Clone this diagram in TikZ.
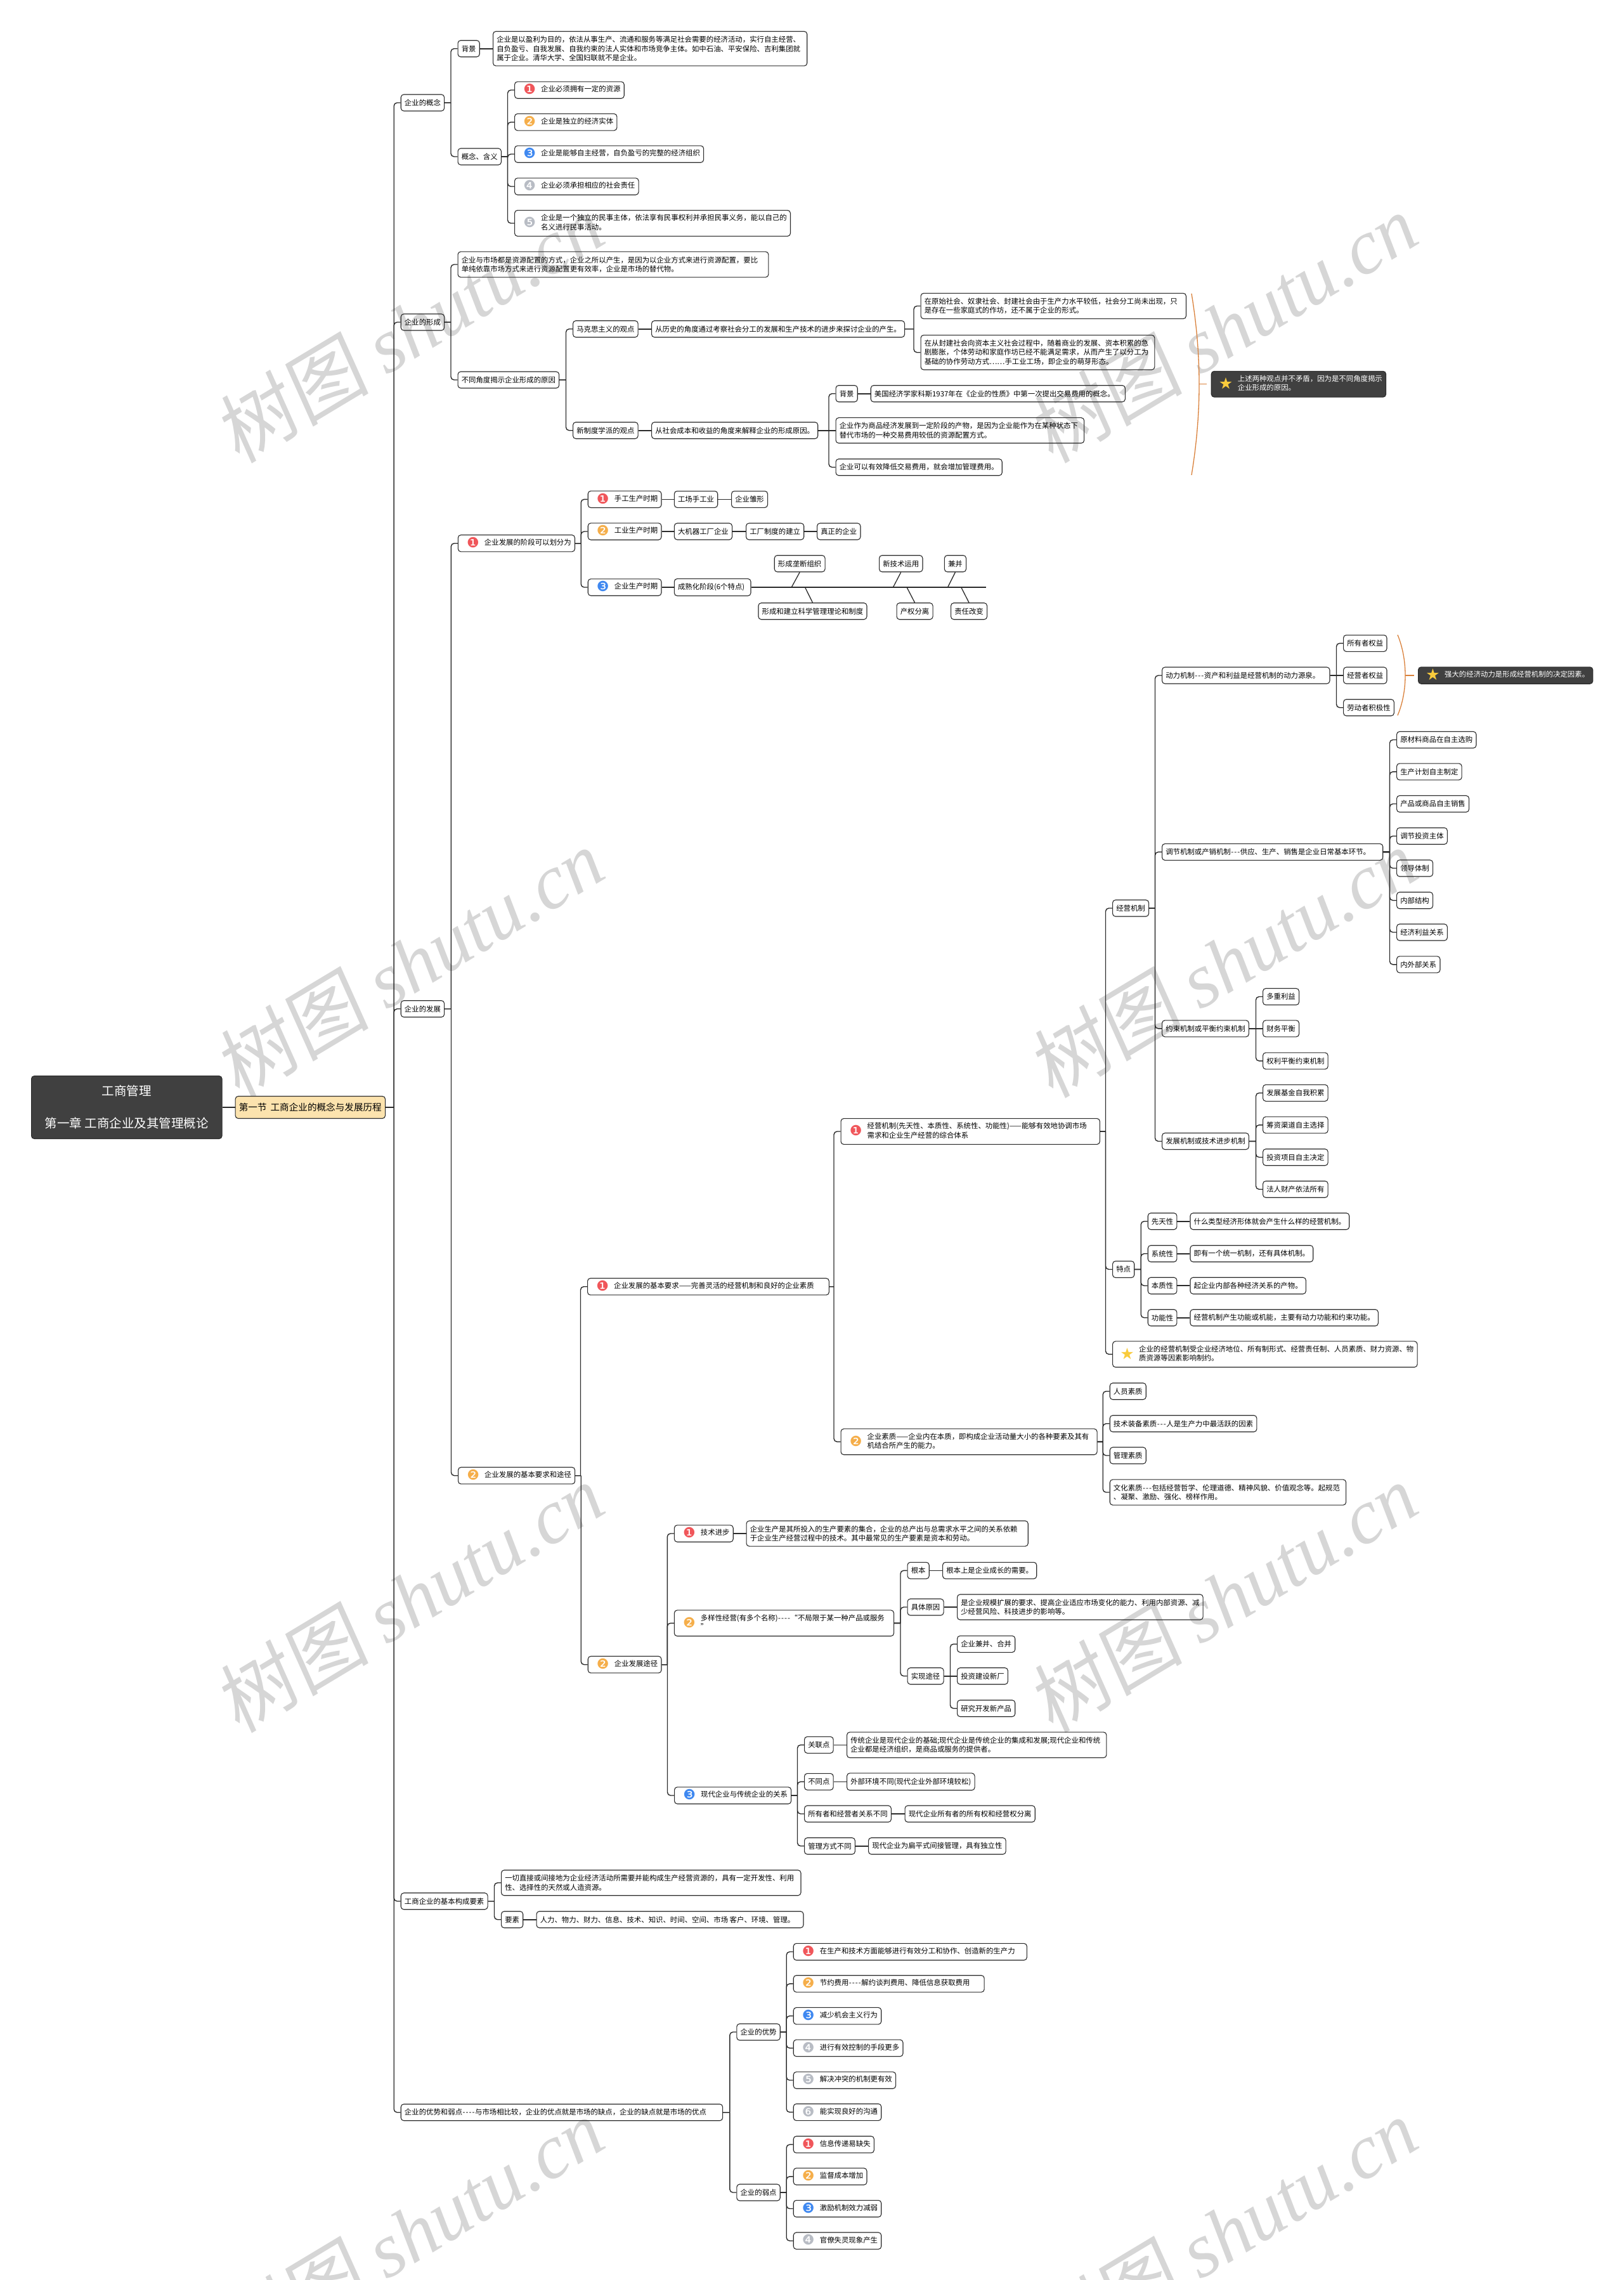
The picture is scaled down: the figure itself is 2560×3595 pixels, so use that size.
\documentclass[tikz,border=0pt]{standalone}
\usepackage{fontspec}
\setmainfont{Noto Sans CJK SC}
\newfontfamily\dingfont{DejaVu Sans}
\newfontfamily\wmcjk[FakeSlant=0.12]{Noto Sans CJK SC}
\newfontfamily\wmlatin{Liberation Serif}
\usetikzlibrary{calc}
\definecolor{linec}{HTML}{2B2B2B}
\definecolor{dotred}{HTML}{F0565A}
\definecolor{dotorange}{HTML}{F5AE4A}
\definecolor{dotblue}{HTML}{3F88F0}
\definecolor{dotgray}{HTML}{B8BCC4}
\definecolor{stary}{HTML}{F9CB3C}
\definecolor{darkbg}{HTML}{404040}
\definecolor{secbg}{HTML}{FCE3AE}
\definecolor{bracec}{HTML}{D9803A}
\definecolor{wmgray}{HTML}{D6D6D6}
\newcommand{\tagged}[2]{\makebox[35.9pt][l]{\hspace{8pt}\raisebox{-4pt}[0pt][0pt]{\fontsize{22}{22}\dingfont #1}}\begin{tabular}[c]{@{}l@{}}#2\end{tabular}}
\newcommand{\rd}[1]{\textcolor{dotred}{#1}}
\newcommand{\og}[1]{\textcolor{dotorange}{#1}}
\newcommand{\bl}[1]{\textcolor{dotblue}{#1}}
\newcommand{\gy}[1]{\textcolor{dotgray}{#1}}
\newcommand{\st}{\hspace{-2pt}\textcolor{stary}{\fontsize{25}{25}\dingfont\raisebox{-1pt}[0pt][0pt]{★}}}
\newcommand{\hy}{\makebox[5pt]{-}}
\newcommand{\pad}[1]{\hspace*{#1pt}}
\tikzset{
  box/.style={draw=linec, line width=1.1pt, rounded corners=4.5pt, anchor=west, align=left,
    inner xsep=5.7pt, inner ysep=7.5pt, minimum height=26pt,
    font=\fontsize{11.4}{14.4}\selectfont},
  tagbox/.style={box, inner ysep=6pt},
  darkbox/.style={tagbox, fill=darkbg, text=white},
  rootbox/.style={box, fill=darkbg, text=white, align=center, minimum width=300.5pt, minimum height=99pt,
    font=\fontsize{19.5}{51}\selectfont},
  secbox/.style={box, fill=secbg, minimum height=35pt, font=\fontsize{14.6}{18}\selectfont},
  link/.style={draw=linec, line width=1.4pt,
    to path={let \p1=(\tikztostart), \p2=(\tikztotarget) in (\p1) -- (\x2-10.5pt,\y1)
      (\x2-10.5pt,\y1) [rounded corners=5pt] |- (\p2)}},
  stem/.style={draw=linec, line width=1.6pt},
  bone/.style={draw=linec, line width=1.3pt},
  brace/.style={draw=bracec, line width=1.3pt},
  watermark/.style={text=wmgray, rotate=31, inner sep=0pt, font=\fontsize{122}{122}\selectfont}
}
\begin{document}
\begin{tikzpicture}[x=1pt, y=-1pt]
  \useasboundingbox (0,0) rectangle (2560,3595);
  \node (wm1) [watermark] at (645, 517) {\wmcjk 树图 \wmlatin\itshape shutu.cn};
  \node (wm2) [watermark] at (1928, 517) {\wmcjk 树图 \wmlatin\itshape shutu.cn};
  \node (wm3) [watermark] at (645, 1518) {\wmcjk 树图 \wmlatin\itshape shutu.cn};
  \node (wm4) [watermark] at (1928, 1518) {\wmcjk 树图 \wmlatin\itshape shutu.cn};
  \node (wm5) [watermark] at (645, 2519) {\wmcjk 树图 \wmlatin\itshape shutu.cn};
  \node (wm6) [watermark] at (1928, 2519) {\wmcjk 树图 \wmlatin\itshape shutu.cn};
  \node (wm7) [watermark] at (645, 3520) {\wmcjk 树图 \wmlatin\itshape shutu.cn};
  \node (wm8) [watermark] at (1928, 3520) {\wmcjk 树图 \wmlatin\itshape shutu.cn};

  \node (root) [rootbox] at (49, 1746) {工商管理\\第一章 工商企业及其管理概论};
  \node (sec) [secbox] at (370.6, 1746) {第一节\hspace{6pt}工商企业的概念与发展历程};
  \draw[stem] (root.east) -- (sec.west);

  \node (cpt) [box] at (631.7, 162) {企业的概念};
  \node (form) [box] at (631.7, 508) {企业的形成};
  \node (grow) [box] at (631.7, 1590.7) {企业的发展};
  \node (elem) [box] at (631.7, 2997.7) {工商企业的基本构成要素};
  \node (prosc) [box] at (631.7, 3330.7) {企业的优势和弱点\hy\hy\hy\hy 与市场相比较，企业的优点就是市场的缺点，企业的缺点就是市场的优点\pad{20}};
  \draw[link] (sec.east) to (cpt.west);
  \draw[link] (sec.east) to (form.west);
  \draw[link] (sec.east) to (grow.west);
  \draw[link] (sec.east) to (elem.west);
  \draw[link] (sec.east) to (prosc.west);

  \node (cptbg) [box] at (721.5, 76.7) {背景};
  \node (cptbgt) [box] at (777, 76.7) {企业是以盈利为目的，依法从事生产、流通和服务等满足社会需要的经济活动，实行自主经营、\pad{5}\\自负盈亏、自我发展、自我约束的法人实体和市场竞争主体。如中石油、平安保险、吉利集团就\\属于企业。清华大学、全国妇联就不是企业。};
  \node (cptdef) [box] at (721.5, 247) {概念、含义};
  \node (def1) [tagbox] at (811, 142) {\tagged{\rd{❶}}{企业必须拥有一定的资源}};
  \node (def2) [tagbox] at (811, 192.6) {\tagged{\og{❷}}{企业是独立的经济实体}};
  \node (def3) [tagbox] at (811, 243) {\tagged{\bl{❸}}{企业是能够自主经营，自负盈亏的完整的经济组织}};
  \node (def4) [tagbox] at (811, 294) {\tagged{\gy{❹}}{企业必须承担相应的社会责任}};
  \node (def5) [tagbox] at (811, 352) {\tagged{\gy{❺}}{企业是一个独立的民事主体，依法享有民事权利并承担民事义务，能以自己的\\名义进行民事活动。}};
  \draw[link] (cpt.east) to (cptbg.west);
  \draw[link] (cpt.east) to (cptdef.west);
  \draw[stem] (cptbg.east) -- (cptbgt.west);
  \draw[link] (cptdef.east) to (def1.west);
  \draw[link] (cptdef.east) to (def2.west);
  \draw[link] (cptdef.east) to (def3.west);
  \draw[link] (cptdef.east) to (def4.west);
  \draw[link] (cptdef.east) to (def5.west);

  \node (mkt) [box] at (721.5, 417) {企业与市场都是资源配置的方式，企业之所以产生，是因为以企业方式来进行资源配置，要比\pad{11}\\单纯依靠市场方式来进行资源配置更有效率，企业是市场的替代物。};
  \node (why) [box] at (721.5, 599) {不同角度揭示企业形成的原因};
  \node (marx) [box] at (903, 518.7) {马克思主义的观点};
  \node (marxt) [box] at (1027, 518.7) {从历史的角度通过考察社会分工的发展和生产技术的进步来探讨企业的产生。};
  \node (marx1) [box] at (1451.5, 482.5) {在原始社会、奴隶社会、封建社会由于生产力水平较低，社会分工尚未出现，只\pad{8}\\是存在一些家庭式的作坊，还不属于企业的形式。};
  \node (marx2) [box] at (1451.5, 555.7) {在从封建社会向资本主义社会过程中，随着商业的发展、资本积累的急\pad{4}\\剧膨胀，个体劳动和家庭作坊已经不能满足需求，从而产生了以分工为\\基础的协作劳动方式……手工业工场，即企业的萌芽形态。};
  \node (inst) [box] at (903, 678.7) {新制度学派的观点};
  \node (instt) [box] at (1027, 678.7) {从社会成本和收益的角度来解释企业的形成原因。};
  \node (instbg) [box] at (1317.5, 620.7) {背景};
  \node (instbgt) [box] at (1372.7, 620.7) {美国经济学家科斯1937年在《企业的性质》中第一次提出交易费用的概念。\pad{11}};
  \node (inst2) [box] at (1317.5, 678.7) {企业作为商品经济发展到一定阶段的产物，是因为企业能作为在某种状态下\pad{4}\\替代市场的一种交易费用较低的资源配置方式。};
  \node (inst3) [box] at (1317.5, 736.7) {企业可以有效降低交易费用，就会增加管理费用。};
  \draw[link] (form.east) to (mkt.west);
  \draw[link] (form.east) to (why.west);
  \draw[link] (why.east) to (marx.west);
  \draw[link] (why.east) to (inst.west);
  \draw[stem] (marx.east) -- (marxt.west);
  \draw[link] (marxt.east) to (marx1.west);
  \draw[link] (marxt.east) to (marx2.west);
  \draw[stem] (inst.east) -- (instt.west);
  \draw[link] (instt.east) to (instbg.west);
  \draw[stem] (instt.east) -- (inst2.west);
  \draw[link] (instt.east) to (inst3.west);
  \draw[stem] (instbg.east) -- (instbgt.west);

  \coordinate (ba1) at (1879, 463);
  \coordinate (bc1) at (1879, 749);
  \coordinate (bm1) at (1891, 605.7);
  \coordinate (bt1) at (1903, 605.7);
  \node (note1) [darkbox] at (1909.7, 605.7) {\tagged{\st}{上述两种观点并不矛盾，因为是不同角度揭示\\企业形成的原因。}};
  \draw[brace] (ba1) .. controls (1895, 560) and (1895, 652) .. (bc1);
  \draw[brace] (bm1) -- (bt1);

  \node (stage) [tagbox] at (721.8, 856.7) {\tagged{\rd{❶}}{企业发展的阶段可以划分为}};
  \node (hand) [tagbox] at (926.7, 787.3) {\tagged{\rd{❶}}{手工生产时期}};
  \node (hand1) [box] at (1062.8, 787.3) {工场手工业};
  \node (hand2) [box] at (1153, 787.3) {企业雏形};
  \node (ind) [tagbox] at (926.7, 838) {\tagged{\og{❷}}{工业生产时期}};
  \node (ind1) [box] at (1062.8, 838) {大机器工厂企业};
  \node (ind2) [box] at (1176, 838) {工厂制度的建立};
  \node (ind3) [box] at (1288, 838) {真正的企业};
  \node (ent) [tagbox] at (926.7, 926) {\tagged{\bl{❸}}{企业生产时期}};
  \node (mature) [box] at (1062.8, 926) {成熟化阶段(6个特点)\pad{4}};
  \draw[link] (grow.east) to (stage.west);
  \draw[link] (stage.east) to (hand.west);
  \draw[link] (stage.east) to (ind.west);
  \draw[link] (stage.east) to (ent.west);
  \draw[stem] (hand.east) -- (hand1.west);
  \draw[stem] (hand1.east) -- (hand2.west);
  \draw[stem] (ind.east) -- (ind1.west);
  \draw[stem] (ind1.east) -- (ind2.west);
  \draw[stem] (ind2.east) -- (ind3.west);
  \draw[stem] (ent.east) -- (mature.west);

  \coordinate (spine) at (1555.3, 926);
  \draw[stem] (mature.east) -- (spine);
  \node (fa) [box] at (1220.7, 888.7) {形成垄断组织};
  \node (fb) [box] at (1386, 888.7) {新技术运用};
  \node (fc) [box] at (1488.8, 888.7) {兼并};
  \node (fd) [box] at (1195.4, 963.7) {形成和建立科学管理理论和制度};
  \node (fe) [box] at (1413.5, 963.7) {产权分离};
  \node (ff) [box] at (1499, 963.7) {责任改变};
  \coordinate (sa) at (1248.2, 926);
  \coordinate (sb) at (1408.4, 926);
  \coordinate (sc) at (1494.5, 926);
  \coordinate (sd) at (1269.5, 926);
  \coordinate (se) at (1430, 926);
  \coordinate (sf) at (1515.7, 926);
  \draw[bone] (fa.south) -- (sa);
  \draw[bone] (fb.south) -- (sb);
  \draw[bone] (fc.south) -- (sc);
  \draw[bone] (fd.north) -- (sd);
  \draw[bone] (fe.north) -- (se);
  \draw[bone] (ff.north) -- (sf);

  \node (req) [tagbox] at (722, 2326.7) {\tagged{\og{❷}}{企业发展的基本要求和途径}};
  \node (need) [tagbox] at (926, 2028.7) {\tagged{\rd{❶}}{企业发展的基本要求——完善灵活的经营机制和良好的企业素质\pad{18}}};
  \node (path) [tagbox] at (926.7, 2624.7) {\tagged{\og{❷}}{企业发展途径}};
  \draw[link] (grow.east) to (req.west);
  \draw[link] (req.east) to (need.west);
  \draw[link] (req.east) to (path.west);

  \node (mech) [tagbox] at (1325.5, 1784) {\tagged{\rd{❶}}{经营机制(先天性、本质性、系统性、功能性)——能够有效地协调市场\pad{15}\\需求和企业生产经营的综合体系}};
  \node (qual) [tagbox] at (1325.5, 2273.3) {\tagged{\og{❷}}{企业素质——企业内在本质，即构成企业活动量大小的各种要素及其有\pad{7}\\机结合所产生的能力。}};
  \draw[link] (need.east) to (mech.west);
  \draw[link] (need.east) to (qual.west);

  \node (jy) [box] at (1754, 1432) {经营机制};
  \node (td) [box] at (1754, 2001.5) {特点};
  \node (mnote) [tagbox] at (1754, 2135.3) {\tagged{\st}{企业的经营机制受企业经济地位、所有制形式、经营责任制、人员素质、财力资源、物\\质资源等因素影响制约。}};
  \draw[link] (mech.east) to (jy.west);
  \draw[link] (mech.east) to (td.west);
  \draw[link] (mech.east) to (mnote.west);

  \node (dl) [box] at (1832, 1065) {动力机制\hy\hy\hy 资产和利益是经营机制的动力源泉。\pad{10}};
  \node (tj) [box] at (1832, 1343.4) {调节机制或产销机制\hy\hy\hy 供应、生产、销售是企业日常基本环节。\pad{14}};
  \node (ys) [box] at (1832, 1621.8) {约束机制或平衡约束机制};
  \node (fz) [box] at (1832, 1799.5) {发展机制或技术进步机制};
  \draw[link] (jy.east) to (dl.west);
  \draw[link] (jy.east) to (tj.west);
  \draw[link] (jy.east) to (ys.west);
  \draw[link] (jy.east) to (fz.west);

  \node (dl1) [box] at (2118, 1014.3) {所有者权益};
  \node (dl2) [box] at (2118, 1065) {经营者权益};
  \node (dl3) [box] at (2118, 1115.7) {劳动者积极性};
  \draw[link] (dl.east) to (dl1.west);
  \draw[stem] (dl.east) -- (dl2.west);
  \draw[link] (dl.east) to (dl3.west);
  \coordinate (ba2) at (2204, 1001);
  \coordinate (bc2) at (2204, 1128);
  \coordinate (bm2) at (2216, 1065);
  \coordinate (bt2) at (2230, 1065);
  \node (note2) [darkbox] at (2236, 1065) {\tagged{\st}{强大的经济动力是形成经营机制的决定因素。}};
  \draw[brace] (ba2) .. controls (2220, 1040) and (2220, 1090) .. (bc2);
  \draw[brace] (bm2) -- (bt2);

  \node (tj1) [box] at (2202, 1166.5) {原材料商品在自主选购};
  \node (tj2) [box] at (2202, 1216.8) {生产计划自主制定};
  \node (tj3) [box] at (2202, 1267.5) {产品或商品自主销售};
  \node (tj4) [box] at (2202, 1318.2) {调节投资主体};
  \node (tj5) [box] at (2202, 1369) {领导体制};
  \node (tj6) [box] at (2202, 1419.7) {内部结构};
  \node (tj7) [box] at (2202, 1470) {经济利益关系};
  \node (tj8) [box] at (2202, 1520.8) {内外部关系};
  \draw[link] (tj.east) to (tj1.west);
  \draw[link] (tj.east) to (tj2.west);
  \draw[link] (tj.east) to (tj3.west);
  \draw[link] (tj.east) to (tj4.west);
  \draw[link] (tj.east) to (tj5.west);
  \draw[link] (tj.east) to (tj6.west);
  \draw[link] (tj.east) to (tj7.west);
  \draw[link] (tj.east) to (tj8.west);

  \node (ys1) [box] at (1991, 1571.5) {多重利益};
  \node (ys2) [box] at (1991, 1621.8) {财务平衡};
  \node (ys3) [box] at (1991, 1672.8) {权利平衡约束机制};
  \draw[link] (ys.east) to (ys1.west);
  \draw[stem] (ys.east) -- (ys2.west);
  \draw[link] (ys.east) to (ys3.west);

  \node (fz1) [box] at (1991, 1723.3) {发展基金自我积累};
  \node (fz2) [box] at (1991, 1773.8) {筹资渠道自主选择};
  \node (fz3) [box] at (1991, 1824.7) {投资项目自主决定};
  \node (fz4) [box] at (1991, 1875.2) {法人财产依法所有};
  \draw[link] (fz.east) to (fz1.west);
  \draw[link] (fz.east) to (fz2.west);
  \draw[link] (fz.east) to (fz3.west);
  \draw[link] (fz.east) to (fz4.west);

  \node (td1) [box] at (1809.7, 1925.7) {先天性};
  \node (td1t) [box] at (1876.4, 1925.7) {什么类型经济形体就会产生什么样的经营机制。};
  \node (td2) [box] at (1809.7, 1976.7) {系统性};
  \node (td2t) [box] at (1876.4, 1976.7) {即有一个统一机制，还有具体机制。};
  \node (td3) [box] at (1809.7, 2027.2) {本质性};
  \node (td3t) [box] at (1876.4, 2027.2) {起企业内部各种经济关系的产物。};
  \node (td4) [box] at (1809.7, 2077.7) {功能性};
  \node (td4t) [box] at (1876.4, 2077.7) {经营机制产生功能或机能，主要有动力功能和约束功能。};
  \draw[link] (td.east) to (td1.west);
  \draw[link] (td.east) to (td2.west);
  \draw[link] (td.east) to (td3.west);
  \draw[link] (td.east) to (td4.west);
  \draw[stem] (td1.east) -- (td1t.west);
  \draw[stem] (td2.east) -- (td2t.west);
  \draw[stem] (td3.east) -- (td3t.west);
  \draw[stem] (td4.east) -- (td4t.west);

  \node (qa) [box] at (1749.7, 2193.7) {人员素质};
  \node (qb) [box] at (1749.7, 2244.7) {技术装备素质\hy\hy\hy 人是生产力中最活跃的因素};
  \node (qc) [box] at (1749.7, 2295) {管理素质};
  \node (qd) [box] at (1749.7, 2353) {文化素质\hy\hy\hy 包括经营哲学、伦理道德、精神风貌、价值观念等。起规范\pad{4}\\、凝聚、激励、强化、榜样作用。};
  \draw[link] (qual.east) to (qa.west);
  \draw[link] (qual.east) to (qb.west);
  \draw[link] (qual.east) to (qc.west);
  \draw[link] (qual.east) to (qd.west);

  \node (tech) [tagbox] at (1062.8, 2418) {\tagged{\rd{❶}}{技术进步}};
  \node (techt) [box] at (1176.5, 2418) {企业生产是其所投入的生产要素的集合，企业的总产出与总需求水平之间的关系依赖\pad{11}\\于企业生产经营过程中的技术。其中最常见的生产要素是资本和劳动。};
  \node (div) [tagbox] at (1062.8, 2559.3) {\tagged{\og{❷}}{多样性经营(有多个名称)\hy\hy\hy\hy “不局限于某一种产品或服务\pad{9}\\”}};
  \node (mod) [tagbox] at (1063, 2831) {\tagged{\bl{❸}}{现代企业与传统企业的关系}};
  \draw[link] (path.east) to (tech.west);
  \draw[link] (path.east) to (div.west);
  \draw[link] (path.east) to (mod.west);
  \draw[stem] (tech.east) -- (techt.west);

  \node (da) [box] at (1430.5, 2476.3) {根本};
  \node (dat) [box] at (1486, 2476.3) {根本上是企业成长的需要。};
  \node (db) [box] at (1430.5, 2534) {具体原因};
  \node (dbt) [box] at (1509, 2534) {是企业规模扩展的要求、提高企业适应市场变化的能力、利用内部资源、减\\少经营风险、科技进步的影响等。};
  \node (dc) [box] at (1430.5, 2642.7) {实现途径};
  \node (dc1) [box] at (1509, 2592.3) {企业兼并、合并};
  \node (dc2) [box] at (1509, 2642.7) {投资建设新厂};
  \node (dc3) [box] at (1509, 2693.7) {研究开发新产品};
  \draw[link] (div.east) to (da.west);
  \draw[link] (div.east) to (db.west);
  \draw[link] (div.east) to (dc.west);
  \draw[stem] (da.east) -- (dat.west);
  \draw[stem] (db.east) -- (dbt.west);
  \draw[link] (dc.east) to (dc1.west);
  \draw[stem] (dc.east) -- (dc2.west);
  \draw[link] (dc.east) to (dc3.west);

  \node (ma) [box] at (1268, 2751.3) {关联点};
  \node (mat) [box] at (1335, 2751.3) {传统企业是现代企业的基础;现代企业是传统企业的集成和发展;现代企业和传统\pad{4}\\企业都是经济组织，是商品或服务的提供者。};
  \node (mb) [box] at (1268, 2809.3) {不同点};
  \node (mbt) [box] at (1335, 2809.3) {外部环境不同(现代企业外部环境较松)};
  \node (mc) [box] at (1268, 2860) {所有者和经营者关系不同};
  \node (mct) [box] at (1426.5, 2860) {现代企业所有者的所有权和经营权分离};
  \node (md) [box] at (1268, 2910.7) {管理方式不同};
  \node (mdt) [box] at (1369, 2910.7) {现代企业为扁平式间接管理，具有独立性};
  \draw[link] (mod.east) to (ma.west);
  \draw[link] (mod.east) to (mb.west);
  \draw[link] (mod.east) to (mc.west);
  \draw[link] (mod.east) to (md.west);
  \draw[stem] (ma.east) -- (mat.west);
  \draw[stem] (mb.east) -- (mbt.west);
  \draw[stem] (mc.east) -- (mct.west);
  \draw[stem] (md.east) -- (mdt.west);

  \node (ela) [box] at (790, 2968.7) {一切直接或间接地为企业经济活动所需要并能构成生产经营资源的，具有一定开发性、利用\pad{5}\\性、选择性的天然或人造资源。};
  \node (elb) [box] at (790, 3026.7) {要素};
  \node (elbt) [box] at (845.5, 3026.7) {人力、物力、财力、信息、技术、知识、时间、空间、市场 客户、环境、管理。\pad{8}};
  \draw[link] (elem.east) to (ela.west);
  \draw[link] (elem.east) to (elb.west);
  \draw[stem] (elb.east) -- (elbt.west);

  \node (pro) [box] at (1161.3, 3204) {企业的优势};
  \node (con) [box] at (1161.3, 3457) {企业的弱点};
  \draw[link] (prosc.east) to (pro.west);
  \draw[link] (prosc.east) to (con.west);
  \node (pro1) [tagbox] at (1250.7, 3077.5) {\tagged{\rd{❶}}{在生产和技术方面能够进行有效分工和协作、创造新的生产力\pad{13}}};
  \node (pro2) [tagbox] at (1250.7, 3127.9) {\tagged{\og{❷}}{节约费用\hy\hy\hy\hy 解约谈判费用、降低信息获取费用\pad{17}}};
  \node (pro3) [tagbox] at (1250.7, 3178.6) {\tagged{\bl{❸}}{减少机会主义行为}};
  \node (pro4) [tagbox] at (1250.7, 3229.3) {\tagged{\gy{❹}}{进行有效控制的手段更多}};
  \node (pro5) [tagbox] at (1250.7, 3280) {\tagged{\gy{❺}}{解决冲突的机制更有效}};
  \node (pro6) [tagbox] at (1250.7, 3330.4) {\tagged{\gy{❻}}{能实现良好的沟通}};
  \draw[link] (pro.east) to (pro1.west);
  \draw[link] (pro.east) to (pro2.west);
  \draw[link] (pro.east) to (pro3.west);
  \draw[link] (pro.east) to (pro4.west);
  \draw[link] (pro.east) to (pro5.west);
  \draw[link] (pro.east) to (pro6.west);
  \node (con1) [tagbox] at (1250.7, 3381.4) {\tagged{\rd{❶}}{信息传递易缺失}};
  \node (con2) [tagbox] at (1250.7, 3431.8) {\tagged{\og{❷}}{监督成本增加}};
  \node (con3) [tagbox] at (1250.7, 3482.5) {\tagged{\bl{❸}}{激励机制效力减弱}};
  \node (con4) [tagbox] at (1250.7, 3533.2) {\tagged{\gy{❹}}{官僚失灵现象产生}};
  \draw[link] (con.east) to (con1.west);
  \draw[link] (con.east) to (con2.west);
  \draw[link] (con.east) to (con3.west);
  \draw[link] (con.east) to (con4.west);
\end{tikzpicture}
\end{document}
